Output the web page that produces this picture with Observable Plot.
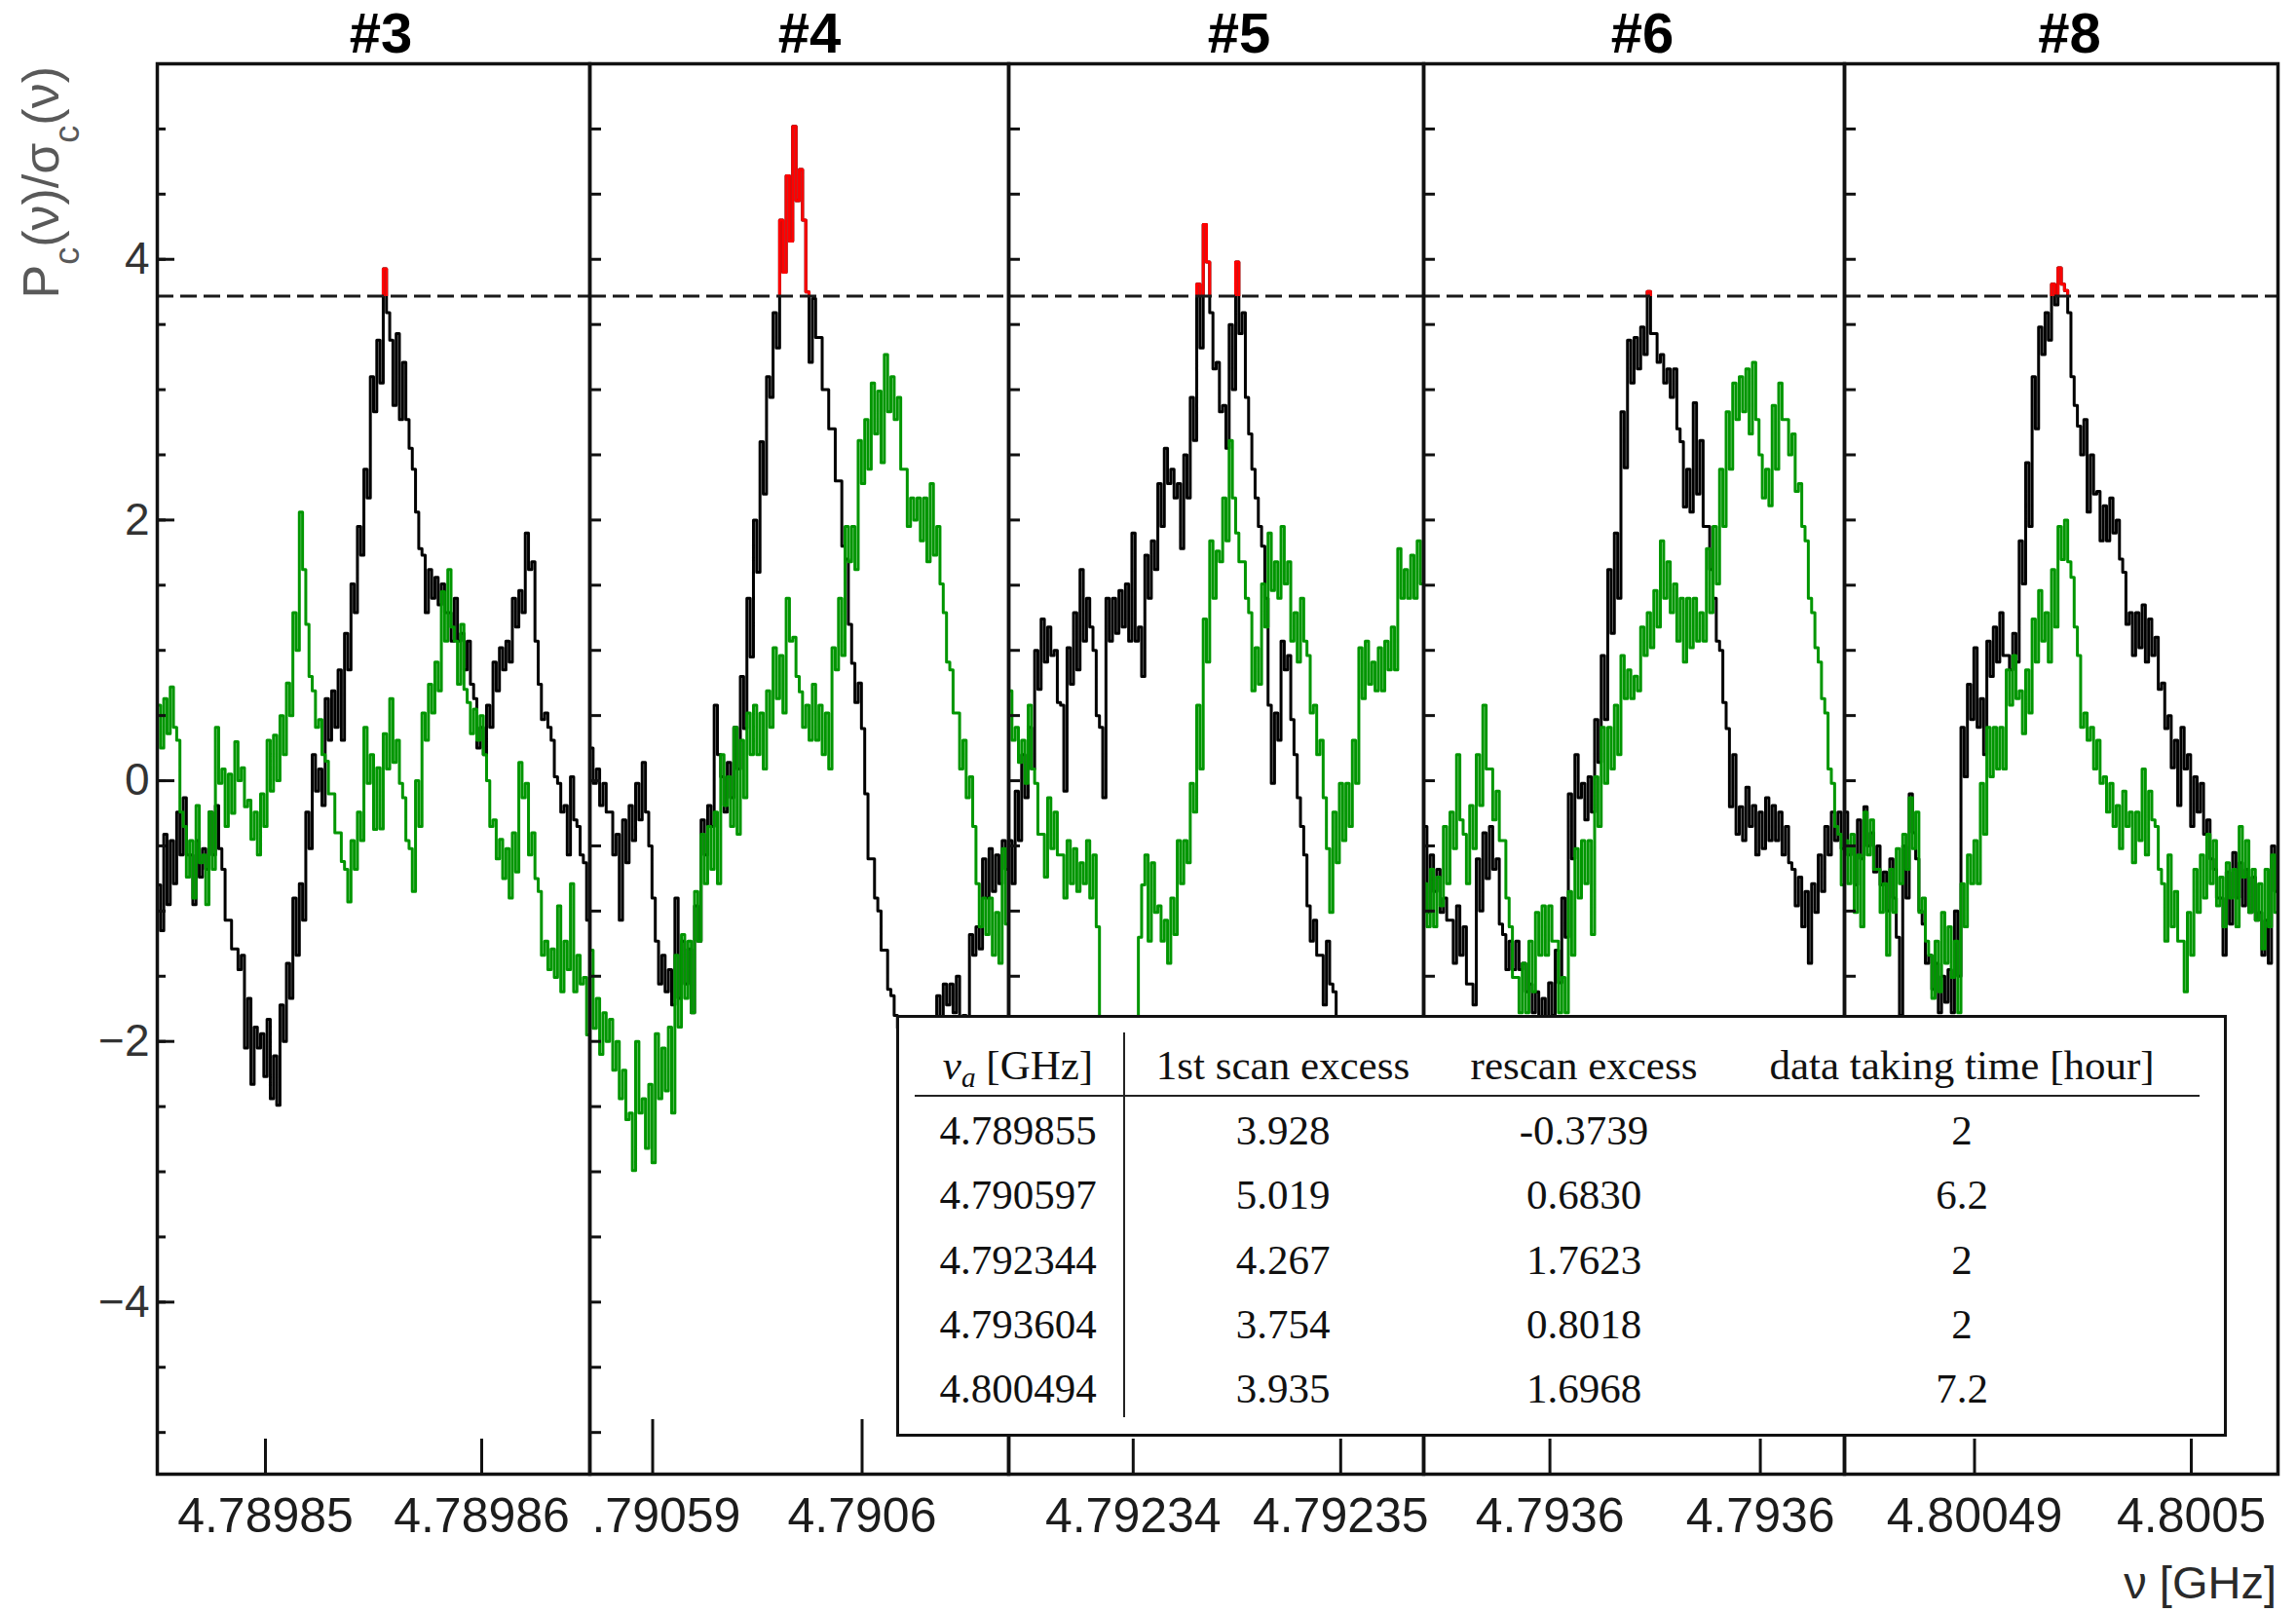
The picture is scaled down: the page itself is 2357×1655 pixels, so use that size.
<!DOCTYPE html>
<html>
<head>
<meta charset="utf-8">
<title>Candidate rescans</title>
<script src="https://cdn.jsdelivr.net/npm/d3@7"></script>
<script src="https://cdn.jsdelivr.net/npm/@observablehq/plot@0.6"></script>
<style>
  html, body { margin: 0; padding: 0; background: #fff; }
  #page { position: relative; width: 2357px; height: 1655px; overflow: hidden; background: #fff;
          font-family: "Liberation Sans", Arial, Helvetica, sans-serif; }
  .panel { position: absolute; top: 0; }
  .panel svg { overflow: visible; }
  #notes { position: absolute; left: 0; top: 0; pointer-events: none; overflow: visible; }
  #inset { position: absolute; background: #fff; border: 3px solid #111; box-sizing: border-box;
           font-family: "Liberation Serif", "Times New Roman", serif; font-size: 43px; color: #111; }
  #inset .cell { position: absolute; line-height: 1; white-space: nowrap; transform: translate(-50%, -50%); }
  #inset .cell sub { font-size: 68%; vertical-align: -0.28em; line-height: 0; }
  #inset .rule { position: absolute; background: #222; }
</style>
</head>
<body>
<div id="page"></div>
<script>
// ---- candidates and their summary numbers ----
const panelNames = ["#3", "#4", "#5", "#6", "#8"];
const candidateGHz = [4.789855, 4.790597, 4.792344, 4.793604, 4.800494];
const firstScanExcess = [3.928, 5.019, 4.267, 3.754, 3.935];
const rescanExcess = [-0.3739, 0.6830, 1.7623, 0.8018, 1.6968];
const takingHours = [2, 6.2, 2, 2, 7.2];

// ---- axis ticks ----
const xTickValues = [[4.78985, 4.78986], [4.79059, 4.7906], [4.79234, 4.79235], [4.7936, 4.79361], [4.80049, 4.8005]];
const xTickLabels = [["4.78985", "4.78986"], [".79059", "4.7906"], ["4.79234", "4.79235"], ["4.7936", "4.7936"], ["4.80049", "4.8005"]];
const yTickValues = [-4, -2, 0, 2, 4];
const threshold = 3.718;        // candidate threshold, Pc/σc
const halfSpanGHz = 1e-5;       // each panel shows ±10 kHz around the candidate

// ---- normalized power per bin, first scan (black) ----
const first3 = [-0.8,-1.15,-0.41,-0.95,-0.46,-0.79,-0.24,-0.57,-0.13,-0.57,-0.57,-0.95,-0.46,-0.74,-0.52,-0.68,-0.24,-0.57,-0.19,-0.52,
  -0.68,-1.07,-1.07,-1.29,-1.29,-1.45,-1.34,-2.05,-1.67,-2.33,-1.89,-2.05,-1.94,-2.27,-1.83,-2.44,-2.11,-2.49,-1.72,-2.0,
  -1.4,-1.67,-0.9,-1.34,-0.79,-1.07,-0.24,-0.52,0.2,-0.08,0.09,-0.19,0.63,0.31,0.69,0.41,0.85,0.31,1.13,0.85,
  1.51,1.29,1.95,1.73,2.39,2.17,3.1,2.83,3.38,3.05,3.928,3.59,3.38,2.88,3.43,2.77,3.21,2.77,2.55,2.39,
  2.06,1.78,1.73,1.29,1.62,1.4,1.56,1.35,1.51,1.29,1.29,1.07,1.4,1.07,1.13,0.85,1.07,0.74,0.63,0.25,
  0.41,0.2,0.58,0.41,0.91,0.69,1.02,0.85,1.07,0.91,1.4,1.18,1.46,1.29,1.9,1.62,1.68,1.07,0.74,0.47,
  0.52,0.41,0.31,0.03,-0.02,-0.24,-0.19,-0.57,0.03,-0.3,-0.35,-0.57,-0.63,-1.07];
const first4 = [0.25,-0.02,0.09,-0.19,-0.02,-0.24,-0.24,-0.57,-0.41,-1.07,-0.3,-0.63,-0.19,-0.46,-0.02,-0.3,0.14,-0.24,-0.5,-0.9,
  -1.23,-1.56,-1.34,-1.62,-1.45,-1.72,-0.9,-1.67,-1.23,-1.56,-1.29,-1.78,-0.96,-1.23,-0.3,-0.57,-0.19,-0.35,0.58,0.2,
  0.03,-0.24,0.14,-0.13,0.41,0.09,0.8,0.4,1.4,0.95,2.0,1.6,2.6,2.2,3.1,2.94,3.59,3.32,4.3,3.9,
  4.64,4.14,5.019,4.45,4.69,4.3,3.75,3.21,3.7,3.4,3.4,3.0,3.0,2.7,2.7,2.3,2.3,1.8,1.7,1.2,
  0.9,0.6,0.75,0.4,-0.1,-0.6,-0.6,-0.9,-1.0,-1.3,-1.3,-1.6,-1.65,-1.8,-1.9,-2.1,-2.1,-2.3,-2.2,-2.0,
  -2.1,-1.9,-2.0,-2.2,-1.9,-2.1,-1.65,-1.85,-1.56,-1.72,-1.56,-1.78,-1.5,-1.85,-1.8,-1.95,-1.18,-1.34,-1.12,-1.29,
  -0.6,-0.9,-0.52,-0.85,-0.57,-0.79,-0.46,-0.68];
const first5 = [-0.46,-0.79,-0.08,-0.46,0.2,-0.13,0.41,0.09,1.0,0.7,1.24,0.91,1.18,0.96,1.0,0.6,0.58,-0.08,1.02,0.74,
  1.29,0.85,1.62,1.07,1.4,1.18,1.0,0.5,0.41,-0.13,1.4,1.07,1.4,1.13,1.46,1.18,1.51,1.07,1.9,1.07,
  1.18,0.8,1.73,1.4,1.84,1.62,2.28,1.95,2.55,2.28,2.39,2.17,2.28,1.78,2.5,2.17,2.94,2.61,3.81,3.32,
  4.267,3.98,3.59,3.16,3.21,2.83,2.88,2.55,3.5,3.0,3.98,3.43,3.59,2.94,2.66,2.39,2.17,1.95,1.8,1.4,
  0.58,-0.02,0.52,0.31,1.07,0.85,0.96,0.47,0.2,-0.13,-0.35,-0.57,-0.96,-1.23,-1.07,-1.34,-1.34,-1.72,-1.23,-1.56,
  -1.62,-1.85,-1.9,-2.1,-2.0,-2.3,-2.2,-2.4,-2.3,-2.5,-2.2,-2.4,-2.1,-2.3,-2.2,-2.0,-2.1,-1.9,-2.0,-2.2,
  -2.0,-2.2,-2.1,-1.9,-2.0,-2.2,-2.1,-1.9];
const first6 = [-0.35,-1.01,-0.57,-0.85,-0.68,-1.01,-0.9,-1.07,-1.07,-1.4,-0.96,-1.34,-1.12,-1.56,-1.56,-1.72,-0.6,-1.0,-0.4,-0.75,
  -0.35,-0.68,-0.6,-1.1,-1.18,-1.45,-1.23,-1.45,-1.23,-1.45,-1.4,-1.62,-1.56,-1.78,-1.62,-1.83,-1.67,-1.9,-1.55,-1.8,
  -1.3,-1.55,-0.9,-1.2,-0.1,-0.6,0.2,-0.13,-0.02,-0.3,0.03,-0.24,0.47,0.14,0.96,0.47,1.62,1.13,1.9,1.4,
  2.83,2.4,3.38,3.05,3.4,3.16,3.48,3.27,3.754,3.43,3.43,3.21,3.27,3.05,3.16,2.94,3.16,2.7,2.6,2.1,
  2.39,2.06,2.9,2.2,2.61,1.95,1.95,1.62,1.4,1.07,1.0,0.6,0.4,-0.2,0.2,-0.41,-0.2,-0.46,-0.05,-0.35,
  -0.19,-0.57,-0.24,-0.52,-0.13,-0.46,-0.19,-0.46,-0.24,-0.57,-0.35,-0.63,-0.68,-0.96,-0.74,-1.12,-0.85,-1.4,-0.79,-1.01,
  -0.57,-0.85,-0.35,-0.57,-0.24,-0.46,-0.24,-0.52];
const first8 = [-0.24,-0.57,-0.5,-0.8,-0.3,-0.6,-0.2,-0.5,-0.4,-0.7,-0.5,-0.8,-0.7,-1.0,-0.6,-0.9,-1.2,-1.8,-0.5,-0.9,
  -0.1,-0.4,-0.6,-1.0,-1.1,-1.4,-1.34,-1.6,-1.4,-1.78,-1.5,-1.7,-1.45,-1.78,-1.0,-1.5,0.41,0.03,0.74,0.47,
  1.02,0.41,0.63,0.2,1.07,0.8,1.18,0.91,1.29,0.96,0.96,0.85,1.13,0.91,1.84,1.51,2.44,1.95,3.1,2.7,
  3.48,3.27,3.59,3.38,3.81,3.65,3.935,3.81,3.76,3.59,3.1,2.88,2.72,2.5,2.77,2.06,2.5,2.2,2.22,1.84,
  2.11,1.84,2.17,1.9,2.0,1.7,1.6,1.2,1.29,0.96,1.29,1.02,1.35,0.91,1.24,0.96,1.1,0.7,0.75,0.4,
  0.5,0.1,0.31,-0.19,0.41,0.09,0.2,-0.35,0.03,-0.24,-0.02,-0.41,-0.3,-0.6,-0.68,-0.9,-0.9,-1.34,-0.7,-1.1,
  -0.55,-0.9,-0.63,-0.96,-0.68,-1.01,-0.74,-1.07,-1.01,-1.34,-1.07,-1.4,-0.5,-0.85];

// ---- normalized power per bin, rescan (green) ----
const rescan3 = [0.58,0.25,0.63,0.36,0.72,0.41,0.31,-0.24,-0.35,-0.74,-0.46,-0.9,-0.19,-0.63,-0.57,-0.95,-0.24,-0.68,0.41,-0.02,
  0.09,-0.35,0.05,-0.25,0.3,0.0,0.1,-0.2,-0.15,-0.45,-0.24,-0.57,-0.1,-0.35,0.31,-0.08,0.35,0.0,0.5,0.2,
  0.75,0.5,1.29,1.0,2.06,1.62,1.2,0.8,0.69,0.41,0.47,0.2,0.15,-0.1,-0.1,-0.4,-0.4,-0.62,-0.68,-0.93,
  -0.46,-0.68,-0.24,-0.46,0.41,-0.02,0.2,-0.3739,0.1,-0.37,0.36,0.09,0.63,0.14,0.31,-0.02,-0.13,-0.46,-0.52,-0.85,
  0.0,-0.35,0.52,0.31,0.74,0.52,0.91,0.69,1.45,1.07,1.62,1.18,1.07,0.74,1.2,0.7,0.6,0.36,0.55,0.31,
  0.5,0.2,0.0,-0.35,-0.3,-0.6,-0.45,-0.75,-0.52,-0.9,-0.4,-0.7,0.14,-0.13,-0.02,-0.57,-0.4,-0.75,-0.85,-1.34,
  -1.23,-1.45,-1.29,-1.51,-0.96,-1.62,-1.23,-1.45,-0.79,-1.62,-1.34,-1.56,-1.51,-1.95];
const rescan4 = [-1.3,-1.9,-1.67,-2.1,-1.78,-2.0,-1.83,-2.22,-2.0,-2.44,-2.22,-2.6,-2.55,-2.99,-2.0,-2.55,-2.44,-2.82,-2.33,-2.93,
  -1.94,-2.44,-2.05,-2.38,-1.89,-2.55,-1.34,-1.89,-1.18,-1.67,-1.23,-1.78,-0.85,-1.23,-0.41,-0.79,-0.35,-0.68,-0.24,-0.79,
  0.2,-0.19,0.03,-0.35,0.41,-0.41,0.31,-0.13,0.52,0.2,0.58,0.2,0.52,0.09,0.69,0.41,1.02,0.63,0.96,0.52,
  1.4,1.07,1.1,0.8,0.683,0.41,0.58,0.31,0.74,0.31,0.58,0.2,0.52,0.09,1.02,0.85,1.4,0.96,1.95,1.68,
  1.95,1.62,2.61,2.28,2.77,2.39,3.05,2.66,2.99,2.44,3.27,2.83,3.1,2.77,2.94,2.39,2.39,1.95,2.17,2.0,
  2.17,1.84,2.17,1.68,2.28,1.73,1.95,1.51,1.29,0.91,0.85,0.52,0.52,0.09,0.31,-0.13,0.03,-0.35,-0.79,-1.12,
  -0.9,-1.18,-0.9,-1.34,-1.01,-1.4,-0.52,-1.1];
const rescan5 = [0.69,0.31,0.41,0.14,0.31,-0.02,0.58,0.09,-0.02,-0.41,-0.41,-0.74,-0.13,-0.52,-0.24,-0.57,-0.57,-0.9,-0.46,-0.79,
  -0.52,-0.85,-0.63,-0.79,-0.46,-0.9,-0.57,-1.12,-2.0,-2.3,-2.3,-2.5,-2.4,-2.6,-2.5,-2.3,-2.4,-2.2,-2.1,-1.9,
  -1.2,-0.8,-0.57,-1.23,-0.63,-1.01,-0.96,-1.23,-1.07,-1.4,-0.9,-1.18,-0.46,-0.79,-0.46,-0.63,-0.02,-0.24,0.58,0.09,
  1.24,0.91,1.84,1.4,1.7623,1.68,2.17,1.84,2.61,2.17,1.9,1.68,1.68,1.4,1.29,0.69,1.02,0.74,1.51,1.18,
  1.9,1.46,1.68,1.4,1.95,1.51,1.68,1.07,1.29,0.91,1.4,1.07,0.96,0.52,0.58,0.2,0.31,-0.13,-0.52,-1.01,
  -0.24,-0.63,-0.02,-0.46,-0.02,-0.35,0.31,-0.02,1.02,0.63,1.07,0.74,0.91,0.69,1.02,0.69,1.07,0.85,1.18,0.85,
  1.78,1.4,1.62,1.4,1.73,1.4,1.84,1.51];
const rescan6 = [-0.79,-1.12,-0.68,-1.12,-0.74,-0.96,-0.35,-0.79,-0.24,-0.52,0.2,-0.3,-0.41,-0.79,-0.19,-0.52,0.2,-0.19,0.58,0.09,
  0.09,-0.3,-0.08,-0.46,-0.46,-0.9,-1.12,-1.51,-1.51,-1.78,-1.4,-1.78,-1.23,-1.62,-1.01,-1.34,-0.96,-1.34,-0.96,-1.23,
  -1.23,-1.78,-1.51,-1.78,-0.85,-1.34,-0.52,-0.9,-0.46,-0.79,-0.46,-1.18,0.03,-0.35,0.41,-0.02,0.41,0.09,0.58,0.2,
  0.96,0.63,0.85,0.63,0.8018,0.69,1.18,0.96,1.29,1.02,1.46,1.18,1.84,1.4,1.68,1.29,1.51,1.07,1.4,0.91,
  1.4,1.02,1.4,1.07,1.29,1.07,1.78,1.29,1.95,1.51,2.39,1.95,2.83,2.39,3.05,2.77,3.1,2.83,3.16,2.66,
  3.21,2.77,2.5,2.17,2.39,2.11,2.88,2.39,3.05,2.77,2.77,2.5,2.66,2.22,2.28,1.95,1.84,1.4,1.29,1.02,
  0.91,0.63,0.52,0.09,-0.02,-0.35,-0.41,-0.8];
const rescan8 = [-0.46,-0.79,-0.41,-1.01,-0.57,-1.12,-0.24,-0.57,-0.3,-0.68,-0.68,-1.01,-0.79,-1.34,-0.68,-1.01,-0.52,-0.79,-0.41,-0.68,
  -0.13,-0.52,-0.24,-1.01,-0.9,-1.23,-1.34,-1.67,-1.23,-1.62,-1.01,-1.4,-1.12,-1.51,-1.23,-1.78,-0.79,-1.12,-0.57,-0.79,
  -0.46,-0.79,-0.02,-0.41,0.41,0.03,0.41,0.09,0.41,0.09,0.85,0.58,0.96,0.63,0.69,0.36,0.85,0.52,1.24,0.91,
  1.46,1.07,1.29,0.91,1.62,1.18,1.95,1.6968,2.0,1.68,1.56,1.18,0.96,0.41,0.52,0.31,0.41,0.09,0.31,-0.02,
  0.03,-0.24,-0.02,-0.35,-0.19,-0.52,-0.08,-0.35,-0.24,-0.63,-0.24,-0.46,0.09,-0.57,-0.08,-0.3,-0.35,-0.68,-0.79,-1.23,
  -0.57,-1.12,-0.85,-1.23,-1.23,-1.62,-1.01,-1.34,-0.68,-1.01,-0.57,-0.9,-0.41,-0.79,-0.46,-0.96,-0.74,-1.12,-0.63,-0.9,
  -0.68,-1.12,-0.35,-0.74,-0.46,-1.01,-0.68,-1.07,-0.79,-1.29,-0.68,-1.12,-0.57,-1.01];

const firstScans = [first3, first4, first5, first6, first8];
const rescans = [rescan3, rescan4, rescan5, rescan6, rescan8];

// ---- layout (pixels) ----
const pageW = 2357, pageH = 1655;
const panelEdges = [161, 605, 1035, 1461, 1893, 2338];
const frameTop = 65, frameBottom = 1513;
const yDomain = [-5.32, 5.5];
const xTickLength = [36, 56, 36, 36, 36];
const titleShift = [8, 11, 24, 9, 9];
const tickFont = 50;
const green = "#009600";

const page = document.getElementById("page");

panelNames.forEach((name, p) => {
  const left = panelEdges[p], right = panelEdges[p + 1];
  const isFirst = p === 0;
  const marginLeft = isFirst ? left : 0;
  const width = right - left + marginLeft;
  const c = candidateGHz[p];
  const bins = values => values.map((s, i) => ({
    nu: c - halfSpanGHz + (i + 0.5) * (2 * halfSpanGHz) / values.length,
    s
  }));
  const scan = bins(firstScans[p]);
  const re = bins(rescans[p]);

  const marks = [
    Plot.line(scan, {x: "nu", y: "s", curve: "step", stroke: "#000", strokeWidth: 3}),
    Plot.line(re, {x: "nu", y: "s", curve: "step", stroke: green, strokeWidth: 3}),
    Plot.line(scan, {x: "nu", y: "s", curve: "step", stroke: "#ff0000", strokeWidth: 3, ariaDescription: "above threshold"}),
    Plot.ruleY([threshold], {stroke: "#1a1a1a", strokeWidth: 3, strokeDasharray: "17,7"}),
    Plot.frame({stroke: "#111", strokeWidth: 3.5}),
    // inward ticks on the frequency axis
    Plot.axisX(xTickValues[p], {anchor: "bottom", tickSize: -xTickLength[p], stroke: "#111", strokeWidth: 3, fill: "none", label: null}),
    // tick labels
    ...xTickValues[p].map((v, j) => {
      const lab = xTickLabels[p][j];
      return Plot.axisX([v], {
        anchor: "bottom", tickSize: 0, tickPadding: 24, fontSize: tickFont, fill: "#1c1c1c", label: null,
        tickFormat: () => lab,
        dx: lab.startsWith(".") ? 0.278 * tickFont : 0
      });
    }),
    // inward ticks on the left edge of every panel
    Plot.axisY(d3.range(-5, 5.01, 0.5), {anchor: "left", tickSize: isFirst ? -9 : -12, stroke: "#111", strokeWidth: 3, fill: "none", label: null})
  ];
  if (isFirst) {
    marks.push(Plot.axisY(yTickValues, {
      anchor: "left", tickSize: -18, tickPadding: 26, fontSize: 46, fill: "#333", stroke: "#111", strokeWidth: 3, label: null,
      tickFormat: d => d < 0 ? "\u2212" + Math.abs(d) : String(d)
    }));
  }

  const chart = Plot.plot({
    width, height: pageH,
    marginTop: frameTop, marginBottom: pageH - frameBottom,
    marginLeft, marginRight: 0,
    x: {domain: [c - halfSpanGHz, c + halfSpanGHz]},
    y: {domain: yDomain},
    style: {background: "transparent", overflow: "visible", fontFamily: "'Liberation Sans', Arial, Helvetica, sans-serif", color: "#111"},
    marks
  });

  // excess above the threshold is drawn in red: clip the red copy to the region above the dashed line
  const ns = "http://www.w3.org/2000/svg";
  const yThr = chart.scale("y").apply(threshold);
  const clip = document.createElementNS(ns, "clipPath");
  clip.setAttribute("id", `above-${p}`);
  const r = document.createElementNS(ns, "rect");
  r.setAttribute("x", -10);
  r.setAttribute("y", -10);
  r.setAttribute("width", width + 20);
  r.setAttribute("height", yThr + 10);
  clip.appendChild(r);
  chart.insertBefore(clip, chart.firstChild);
  let red = chart.querySelector('g[aria-description="above threshold"]');
  if (!red) { const ls = chart.querySelectorAll('g[aria-label="line"]'); red = ls[ls.length - 1]; }
  red.setAttribute("clip-path", `url(#above-${p})`);

  const holder = document.createElement("div");
  holder.className = "panel";
  holder.style.left = (left - marginLeft) + "px";
  holder.style.width = width + "px";
  holder.appendChild(chart);
  page.appendChild(holder);
});

// ---- titles and axis titles ----
const notes = d3.select(page).append("svg")
  .attr("id", "notes").attr("width", pageW).attr("height", pageH)
  .style("font-family", "'Liberation Sans', Arial, Helvetica, sans-serif");

notes.selectAll("text.title").data(panelNames).join("text")
  .attr("class", "title")
  .attr("x", (d, i) => (panelEdges[i] + panelEdges[i + 1]) / 2 + titleShift[i])
  .attr("y", 54)
  .attr("text-anchor", "middle")
  .attr("font-size", 58).attr("font-weight", "bold").attr("fill", "#000")
  .text(d => d);

const yTitle = notes.append("text")
  .attr("transform", "translate(60,68) rotate(-90)")
  .attr("text-anchor", "end").attr("font-size", 52).attr("fill", "#595959");
yTitle.append("tspan").text("P");
yTitle.append("tspan").attr("baseline-shift", "sub").attr("font-size", 36).text("c");
yTitle.append("tspan").text("(\u03bd)/\u03c3");
yTitle.append("tspan").attr("baseline-shift", "sub").attr("font-size", 36).text("c");
yTitle.append("tspan").text("(\u03bd)");

notes.append("text")
  .attr("x", 2337).attr("y", 1641)
  .attr("text-anchor", "end").attr("font-size", 47).attr("fill", "#2a2a2a")
  .text("\u03bd [GHz]");

// ---- summary table ----
const inset = d3.select(page).append("div").attr("id", "inset")
  .style("left", "920px").style("top", "1042px").style("width", "1366px").style("height", "433px");
const colCenters = [122, 394, 703, 1091];
const rowCenters = [48, 115, 181, 248, 314, 380];
const header = ["<i>\u03bd</i><sub><i>a</i></sub> [GHz]", "1st scan excess", "rescan excess", "data taking time [hour]"];
header.forEach((h, j) => {
  inset.append("div").attr("class", "cell")
    .style("left", colCenters[j] + "px").style("top", rowCenters[0] + "px").html(h);
});
candidateGHz.forEach((f, i) => {
  const row = [f.toFixed(6), firstScanExcess[i].toFixed(3), rescanExcess[i].toFixed(4), String(takingHours[i])];
  row.forEach((t, j) => {
    inset.append("div").attr("class", "cell")
      .style("left", colCenters[j] + "px").style("top", rowCenters[i + 1] + "px").text(t);
  });
});
inset.append("div").attr("class", "rule")
  .style("left", "16px").style("top", "79px").style("width", "1319px").style("height", "2px");
inset.append("div").attr("class", "rule")
  .style("left", "230px").style("top", "15px").style("width", "1.5px").style("height", "395px");
</script>
</body>
</html>
